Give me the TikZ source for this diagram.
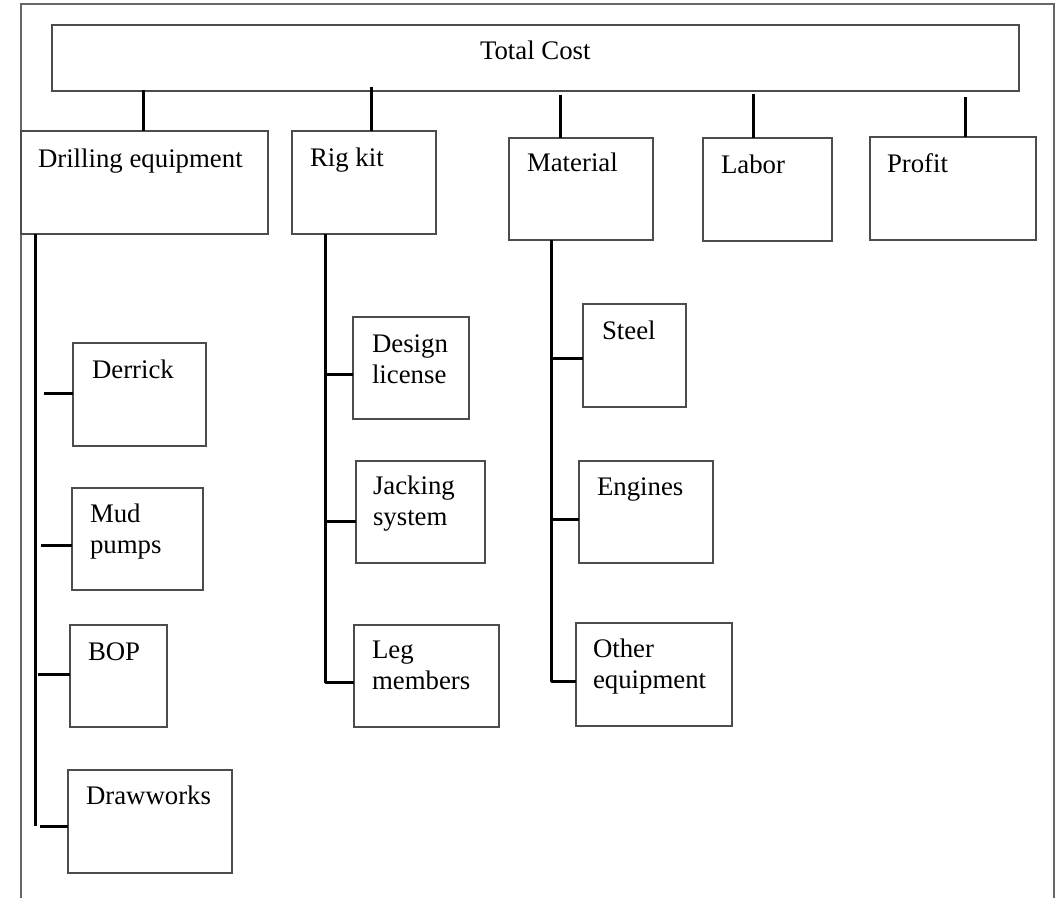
\documentclass[tikz,border=0pt]{standalone}
\usepackage{fontspec}
\setmainfont{Liberation Serif}
\newcommand\twolines[2]{\vtop{\hbox{#1}\hbox{#2}}}
\begin{document}
\begin{tikzpicture}[x=1pt,y=-1pt,
  frame/.style={draw=black!60, line width=1.4pt},
  box/.style={draw=black!70, line width=1.4pt, rectangle, inner sep=0pt, outer sep=0pt, anchor=north west},
  lbl/.style={anchor=base west, inner sep=0pt, outer sep=0pt, font=\fontsize{26.8}{31}\selectfont},
  link/.style={draw=black, line width=3pt}]
\useasboundingbox (0,0) rectangle (1056,898);
% page frame, open at the bottom
\draw[frame] (21,898) -- (21,4) -- (1054,4) -- (1054,898);

% top level
\node[box, minimum width=967pt, minimum height=66pt] (total) at (52,25) {};
\node[lbl] (total-t) at (480,59) {Total Cost};

% second level
\node[box, minimum width=247pt, minimum height=103pt] (drill) at (21,131) {};
\node[box, minimum width=144pt, minimum height=103pt] (rig) at (292,131) {};
\node[box, minimum width=144pt, minimum height=102pt] (mat) at (509,138) {};
\node[box, minimum width=129pt, minimum height=103pt] (labor) at (703,138) {};
\node[box, minimum width=166pt, minimum height=103pt] (profit) at (870,137) {};
\node[lbl] (drill-t) at (38,167) {Drilling equipment};
\node[lbl] (rig-t) at (310,166) {Rig kit};
\node[lbl] (mat-t) at (527,171) {Material};
\node[lbl] (labor-t) at (721,173) {Labor};
\node[lbl] (profit-t) at (887,172) {Profit};

% drilling equipment items
\node[box, minimum width=133pt, minimum height=103pt] (derrick) at (73,343) {};
\node[box, minimum width=131pt, minimum height=102pt] (mud) at (72,488) {};
\node[box, minimum width=97pt, minimum height=102pt] (bop) at (70,625) {};
\node[box, minimum width=164pt, minimum height=103pt] (drawworks) at (68,770) {};
\node[lbl] (derrick-t) at (92,378) {Derrick};
\node[lbl] (mud-t) at (90,522) {\twolines{Mud}{pumps}};
\node[lbl] (bop-t) at (88,660) {BOP};
\node[lbl] (drawworks-t) at (86,804) {Drawworks};

% rig kit items
\node[box, minimum width=116pt, minimum height=102pt] (design) at (353,317) {};
\node[box, minimum width=129pt, minimum height=102pt] (jack) at (356,461) {};
\node[box, minimum width=145pt, minimum height=102pt] (leg) at (354,625) {};
\node[lbl] (design-t) at (372,352) {\twolines{Design}{license}};
\node[lbl] (jack-t) at (373,494) {\twolines{Jacking}{system}};
\node[lbl] (leg-t) at (372,658) {\twolines{Leg}{members}};

% material items
\node[box, minimum width=103pt, minimum height=103pt] (steel) at (583,304) {};
\node[box, minimum width=134pt, minimum height=102pt] (engines) at (579,461) {};
\node[box, minimum width=156pt, minimum height=103pt] (other) at (576,623) {};
\node[lbl] (steel-t) at (602,339) {Steel};
\node[lbl] (engines-t) at (597,495) {Engines};
\node[lbl] (other-t) at (593,657) {\twolines{Other}{equipment}};

% drops from the total cost bar
\coordinate (d1) at (143,90);
\coordinate (d2) at (371,87);
\coordinate (d3) at (560,95);
\coordinate (d4) at (753,94);
\coordinate (d5) at (965,97);
\draw[link] (d1) -- (d1 |- drill.north);
\draw[link] (d2) -- (d2 |- rig.north);
\draw[link] (d3) -- (d3 |- mat.north);
\draw[link] (d4) -- (d4 |- labor.north);
\draw[link] (d5) -- (d5 |- profit.north);

% drilling equipment spine and stubs
\coordinate (ds-top) at (35,234);
\coordinate (ds-end) at (35,826);
\draw[link] (ds-top) -- (ds-end);
\coordinate (s-derrick) at (44,393);
\coordinate (s-mud) at (41,545);
\coordinate (s-bop) at (38,674);
\coordinate (s-draw) at (40,826);
\draw[link] (s-derrick) -- (s-derrick -| derrick.west);
\draw[link] (s-mud) -- (s-mud -| mud.west);
\draw[link] (s-bop) -- (s-bop -| bop.west);
\draw[link] (s-draw) -- (s-draw -| drawworks.west);

% rig kit spine and stubs
\coordinate (rs-top) at (325,234);
\coordinate (rs-end) at (325,682);
\coordinate (s-design) at (325,374);
\coordinate (s-jack) at (325,521);
\draw[link, line join=round] (rs-top) -- (rs-end) -- (rs-end -| leg.west);
\draw[link] (s-design) -- (s-design -| design.west);
\draw[link] (s-jack) -- (s-jack -| jack.west);

% material spine and stubs
\coordinate (ms-top) at (551,240);
\coordinate (ms-end) at (551,681);
\coordinate (s-steel) at (551,358);
\coordinate (s-engines) at (551,519);
\draw[link, line join=round] (ms-top) -- (ms-end) -- (ms-end -| other.west);
\draw[link] (s-steel) -- (s-steel -| steel.west);
\draw[link] (s-engines) -- (s-engines -| engines.west);
\end{tikzpicture}
\end{document}
